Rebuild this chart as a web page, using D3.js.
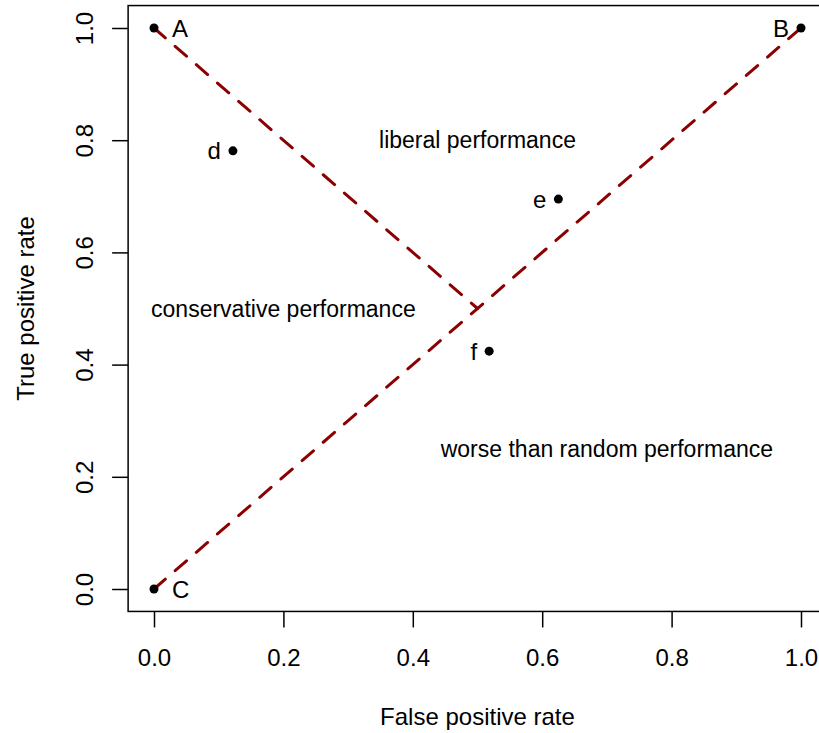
<!DOCTYPE html>
<html>
<meta charset="utf-8">
<style>
  body { margin: 0; padding: 0; background: #fff; }
  text { font-family: "Liberation Sans", Arial, sans-serif; fill: #000; }
</style>
<body>
<svg id="chart" width="819" height="733"></svg>
<script src="https://cdn.jsdelivr.net/npm/d3@7"></script>
<script>
// data
var pointNames = ["A", "B", "C", "d", "e", "f"];
var pointX = [0, 1, 0, 0.122, 0.625, 0.518];
var pointY = [1, 1, 0, 0.781, 0.695, 0.424];
var labelSide = ["right", "left", "right", "left", "left", "left"];

var lineNames = ["descending", "diagonal"];
var lineX = [[0, 0.5], [0, 1]];
var lineY = [[1, 0.5], [0, 1]];

var regionLabels = ["liberal performance", "conservative performance", "worse than random performance"];
var regionX = [0.5, 0.2, 0.7];
var regionY = [0.8, 0.5, 0.25];

var tickValues = [0, 0.2, 0.4, 0.6, 0.8, 1.0];

var svg = d3.select("#chart");

var x = d3.scaleLinear().domain([0, 1]).range([154, 801]);
var y = d3.scaleLinear().domain([0, 1]).range([589, 28]);

// plot box (R style, 4% padding)
svg.append("rect")
  .attr("x", x(-0.04)).attr("y", y(1.04))
  .attr("width", x(1.04) - x(-0.04))
  .attr("height", y(-0.04) - y(1.04))
  .attr("fill", "none").attr("stroke", "#000").attr("stroke-width", 1.5);

var xAxis = svg.append("g")
  .attr("transform", "translate(0," + y(-0.04) + ")")
  .call(d3.axisBottom(x).tickValues(tickValues).tickFormat(d3.format(".1f")).tickSize(16).tickPadding(22));
xAxis.selectAll("text").style("font-size", "24px").attr("fill", "#000");

var yAxis = svg.append("g")
  .attr("transform", "translate(" + x(-0.04) + ",0)")
  .call(d3.axisLeft(y).tickValues(tickValues).tickFormat(d3.format(".1f")).tickSize(16));
yAxis.selectAll("text")
  .style("font-size", "24px").attr("fill", "#000")
  .attr("x", 0).attr("y", 0).attr("dy", 0)
  .attr("text-anchor", "middle")
  .attr("transform", "translate(-35,0) rotate(-90)");

[xAxis, yAxis].forEach(function(a) {
  a.select(".domain").remove();
  a.selectAll("line").attr("stroke", "#000").attr("stroke-width", 1.5);
});

// dashed lines
var line = d3.line().x(function(d) { return x(d[0]); }).y(function(d) { return y(d[1]); });
svg.selectAll(".dash")
  .data(lineNames)
  .enter().append("path")
  .attr("class", "dash")
  .attr("d", function(d, i) { return line(d3.zip(lineX[i], lineY[i])); })
  .attr("fill", "none")
  .attr("stroke", "#8b0000")
  .attr("stroke-width", 3)
  .attr("stroke-linecap", "round")
  .attr("stroke-dasharray", "15,13");

// points
svg.selectAll(".pt")
  .data(pointNames)
  .enter().append("circle")
  .attr("class", "pt")
  .attr("cx", function(d, i) { return x(pointX[i]); })
  .attr("cy", function(d, i) { return y(pointY[i]); })
  .attr("r", 4.5)
  .attr("fill", "#000");

svg.selectAll(".ptlab")
  .data(pointNames)
  .enter().append("text")
  .attr("class", "ptlab")
  .attr("x", function(d, i) { return x(pointX[i]) + (labelSide[i] == "right" ? 18 : -12); })
  .attr("y", function(d, i) { return y(pointY[i]); })
  .attr("dy", "0.36em")
  .attr("text-anchor", function(d, i) { return labelSide[i] == "right" ? "start" : "end"; })
  .style("font-size", "24px")
  .text(function(d) { return d; });

// region labels
svg.selectAll(".region")
  .data(regionLabels)
  .enter().append("text")
  .attr("class", "region")
  .attr("x", function(d, i) { return x(regionX[i]); })
  .attr("y", function(d, i) { return y(regionY[i]); })
  .attr("dy", "0.36em")
  .attr("text-anchor", "middle")
  .style("font-size", "23px")
  .text(function(d) { return d; });

// axis titles
svg.append("text")
  .attr("x", x(0.5)).attr("y", 725)
  .attr("text-anchor", "middle")
  .style("font-size", "24px")
  .text("False positive rate");

svg.append("text")
  .attr("transform", "translate(34," + y(0.5) + ") rotate(-90)")
  .attr("text-anchor", "middle")
  .style("font-size", "24px")
  .text("True positive rate");
</script>
</body>
</html>
